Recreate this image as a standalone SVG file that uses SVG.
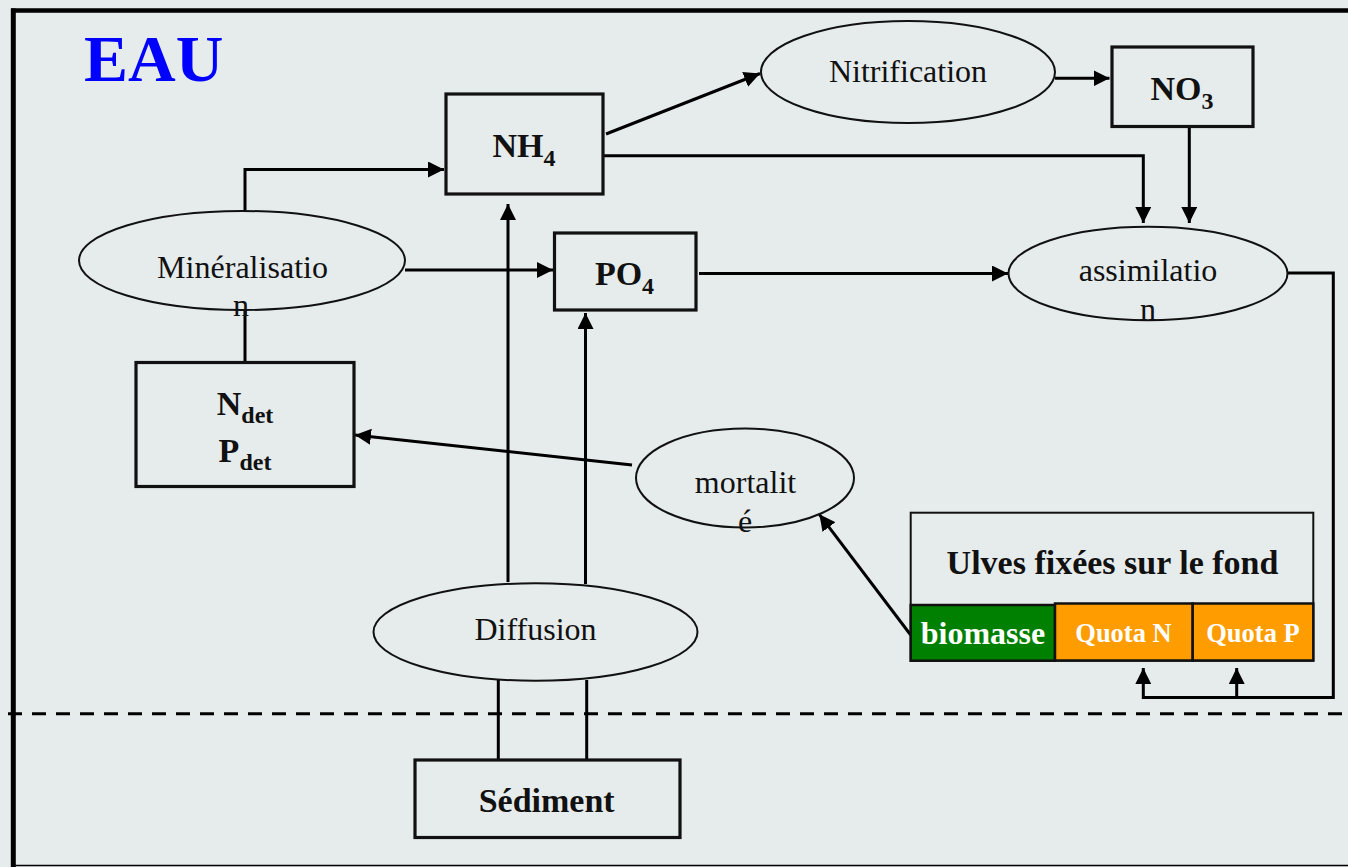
<svg xmlns="http://www.w3.org/2000/svg" width="1348" height="867" viewBox="0 0 1348 867">
<style>
text{font-family:"Liberation Serif","Times New Roman",serif;}
.reg{font-size:32px;fill:#111;}
.bold{font-size:34px;font-weight:bold;fill:#111;}
.box{fill:none;stroke:#111;stroke-width:3.2;}
.ell{fill:none;stroke:#111;stroke-width:2;}
.con{fill:none;stroke:#000;stroke-width:3;}
.wt{font-weight:bold;fill:#fff;}
</style>
<defs>
<marker id="ah" markerUnits="userSpaceOnUse" viewBox="0 0 16 16" refX="16" refY="8" markerWidth="16" markerHeight="16" orient="auto">
<path d="M0,0 L16,8 L0,16 z" fill="#000"/>
</marker>
</defs>
<rect x="0" y="0" width="1348" height="867" fill="#e6ecec"/>
<g id="frame">
<line x1="11" y1="10.5" x2="1348" y2="10.5" stroke="#000" stroke-width="4.5"/>
<line x1="13.3" y1="8.5" x2="13.3" y2="867" stroke="#000" stroke-width="5"/>
<line x1="11" y1="865.5" x2="1348" y2="865.5" stroke="#000" stroke-width="1.5"/>
<line x1="8" y1="713.7" x2="1348" y2="713.7" stroke="#000" stroke-width="3" stroke-dasharray="14 10"/>
<text x="84" y="81" font-size="66" font-weight="bold" fill="#0000ff">EAU</text>
</g>
<g id="connectors">
<path class="con" d="M245,211 V169.5 H444" marker-end="url(#ah)"/>
<path class="con" d="M405,270 H553" marker-end="url(#ah)"/>
<line class="con" x1="245" y1="310" x2="245" y2="362"/>
<path class="con" d="M606,134 L760,73.5" marker-end="url(#ah)"/>
<path class="con" d="M1055,78.3 H1109.5" marker-end="url(#ah)"/>
<path class="con" d="M603,155.7 H1143.3 V223" marker-end="url(#ah)"/>
<path class="con" d="M1189.3,126.7 V223" marker-end="url(#ah)"/>
<path class="con" d="M699,273.5 H1008" marker-end="url(#ah)"/>
<path class="con" d="M1287,273 H1333.3 V697.5 H1143.3 V668" marker-end="url(#ah)"/>
<path class="con" d="M1236.7,697.5 V668" marker-end="url(#ah)"/>
<path class="con" d="M632,465 L355,435" marker-end="url(#ah)"/>
<path class="con" d="M910.7,635 L819.3,514.3" marker-end="url(#ah)"/>
<path class="con" d="M508,582 V204" marker-end="url(#ah)"/>
<path class="con" d="M585.5,584 V313" marker-end="url(#ah)"/>
<line class="con" x1="498.3" y1="680" x2="498.3" y2="760"/>
<line class="con" x1="586.7" y1="680" x2="586.7" y2="760"/>
</g>
<g id="nh4">
<rect class="box" x="446" y="94" width="157" height="100"/>
<text class="bold" x="524" y="157" text-anchor="middle">NH<tspan font-size="24" dy="9">4</tspan></text>
</g>
<g id="po4">
<rect class="box" x="554.5" y="233" width="141.5" height="77"/>
<text class="bold" x="624.5" y="285" text-anchor="middle">PO<tspan font-size="24" dy="9">4</tspan></text>
</g>
<g id="no3">
<rect class="box" x="1112" y="47" width="141" height="79.5"/>
<text class="bold" x="1182" y="100" text-anchor="middle">NO<tspan font-size="24" dy="9">3</tspan></text>
</g>
<g id="nitrification">
<ellipse class="ell" cx="908" cy="72" rx="147" ry="51"/>
<text class="reg" x="908" y="82" text-anchor="middle">Nitrification</text>
</g>
<g id="mineralisation">
<ellipse class="ell" cx="242" cy="260.5" rx="163" ry="49.5"/>
<text class="reg" x="242.5" y="278" text-anchor="middle" textLength="171" lengthAdjust="spacingAndGlyphs">Minéralisatio</text>
<text class="reg" x="241" y="316" text-anchor="middle">n</text>
</g>
<g id="assimilation">
<ellipse class="ell" cx="1148" cy="273.5" rx="139.5" ry="46.7"/>
<text class="reg" x="1148" y="281" text-anchor="middle">assimilatio</text>
<text class="reg" x="1148" y="320" text-anchor="middle">n</text>
</g>
<g id="ndet">
<rect class="box" x="136" y="362.5" width="218" height="124"/>
<text class="bold" x="245" y="415" text-anchor="middle" font-size="35">N<tspan font-size="24" dy="8">det</tspan></text>
<text class="bold" x="245" y="461.5" text-anchor="middle" font-size="35">P<tspan font-size="24" dy="8">det</tspan></text>
</g>
<g id="mortalite">
<ellipse class="ell" cx="745" cy="478" rx="109" ry="49.5"/>
<text class="reg" x="745.5" y="493.3" text-anchor="middle">mortalit</text>
<text class="reg" x="745" y="531.5" text-anchor="middle">é</text>
</g>
<g id="diffusion">
<ellipse class="ell" cx="535.5" cy="632" rx="162" ry="48.7"/>
<text class="reg" x="535.5" y="640" text-anchor="middle">Diffusion</text>
</g>
<g id="sediment">
<rect class="box" x="415" y="760" width="265" height="77.5"/>
<text class="bold" x="546.7" y="811.7" text-anchor="middle">Sédiment</text>
</g>
<g id="ulves">
<rect x="910.7" y="512.7" width="402.6" height="148" fill="none" stroke="#111" stroke-width="2"/>
<text class="bold" x="1112.5" y="574" text-anchor="middle" font-size="36">Ulves fixées sur le fond</text>
<rect x="910.7" y="605" width="144.3" height="55.7" fill="#008000" stroke="#111" stroke-width="2.5"/>
<rect x="1055" y="603.5" width="137.7" height="57" fill="#ff9c00" stroke="#111" stroke-width="2.5"/>
<rect x="1192.7" y="603.5" width="120.6" height="57" fill="#ff9c00" stroke="#111" stroke-width="2.5"/>
<text class="wt" x="983" y="644" text-anchor="middle" font-size="32">biomasse</text>
<text class="wt" x="1123.5" y="641.7" text-anchor="middle" font-size="26.5">Quota N</text>
<text class="wt" x="1253" y="641.7" text-anchor="middle" font-size="26.5">Quota P</text>
</g>
</svg>
